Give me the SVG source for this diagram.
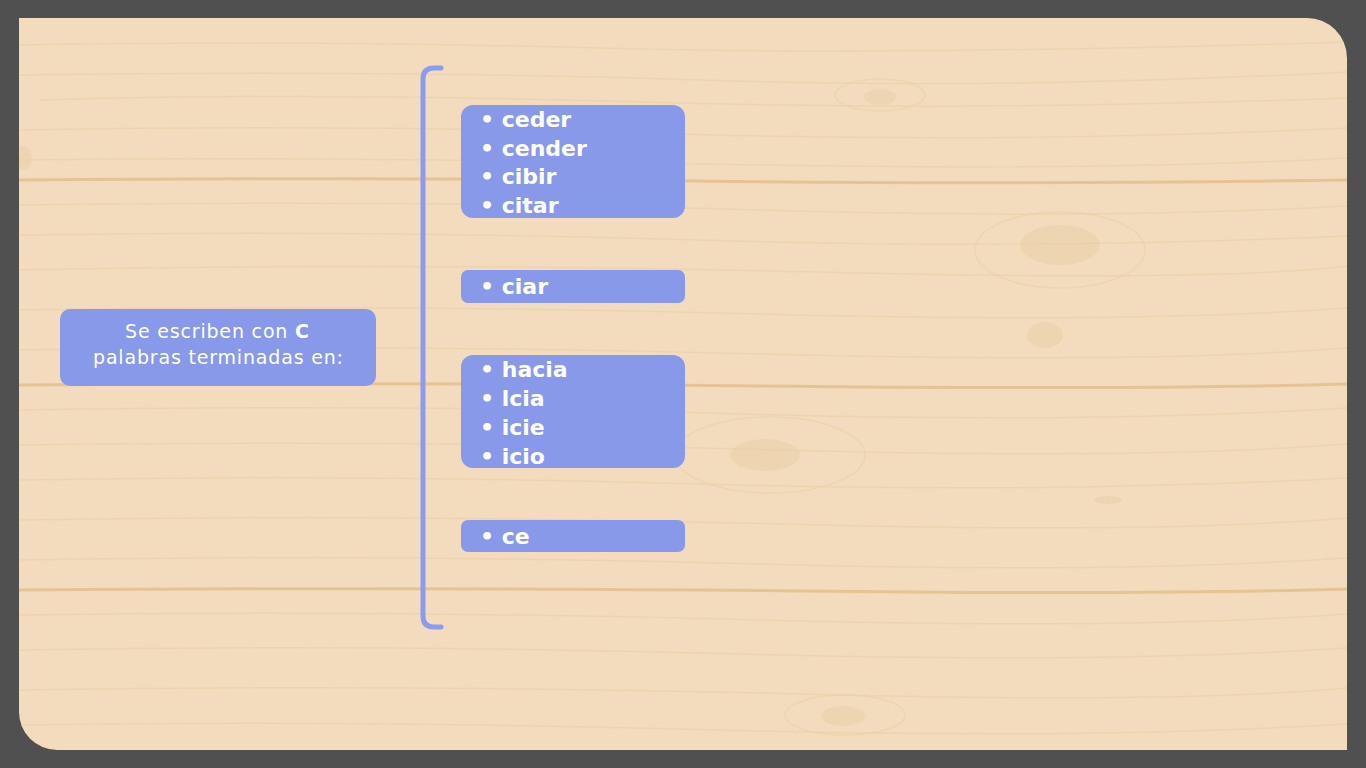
<svg xmlns="http://www.w3.org/2000/svg" width="1366" height="768" viewBox="0 0 1366 768">
  <defs>
    <style>
      .box { fill: #8899e9; }
      .item { font-family: "DejaVu Sans", "Liberation Sans", sans-serif; font-weight: bold; font-size: 22px; fill: #ffffff; }
      .lead { font-family: "DejaVu Sans", "Liberation Sans", sans-serif; font-size: 19px; fill: #ffffff; }
      .seam { stroke: #e6c393; stroke-width: 3; fill: none; }
      .grain { stroke: #ebd0a8; stroke-width: 1.5; fill: none; opacity: 0.7; }
      .knot { fill: #e9c99b; opacity: 0.35; }
      .ring { fill: none; stroke: #ebcfa6; stroke-width: 1.5; opacity: 0.6; }
    </style>
    <clipPath id="panelClip">
      <path d="M19 18 H1307 A40 40 0 0 1 1347 58 V750 H57 A38 38 0 0 1 19 712 Z"/>
    </clipPath>
  </defs>

  <!-- frame -->
  <rect x="0" y="0" width="1366" height="768" fill="#505050"/>

  <!-- wooden panel -->
  <g id="panel" clip-path="url(#panelClip)">
    <rect x="19" y="18" width="1328" height="732" fill="#f2dcbd"/>
    <!-- plank seams -->
    <path class="seam" d="M19 180 Q400 177 700 181 T1347 180"/>
    <path class="seam" d="M19 385 Q400 382 760 386 T1347 384"/>
    <path class="seam" d="M19 590 Q450 587 800 591 T1347 589"/>
    <!-- grain -->
    <path class="grain" d="M19 45 Q300 40 600 48 T1347 42"/>
    <path class="grain" d="M19 75 Q400 70 700 80 T1347 72"/>
    <path class="grain" d="M40 100 Q300 92 640 102 T1347 98"/>
    <path class="grain" d="M19 130 Q350 124 680 134 T1347 128"/>
    <path class="grain" d="M19 160 Q300 156 700 164 T1347 158"/>
    <path class="grain" d="M19 205 Q420 200 760 210 T1347 206"/>
    <path class="grain" d="M19 235 Q360 230 700 240 T1347 236"/>
    <path class="grain" d="M19 270 Q420 262 820 272 T1347 266"/>
    <path class="grain" d="M19 310 Q400 304 760 314 T1347 308"/>
    <path class="grain" d="M19 350 Q380 344 760 354 T1347 348"/>
    <path class="grain" d="M19 410 Q400 404 740 414 T1347 408"/>
    <path class="grain" d="M19 445 Q420 440 780 450 T1347 444"/>
    <path class="grain" d="M19 480 Q360 474 700 484 T1347 478"/>
    <path class="grain" d="M19 520 Q400 514 780 524 T1347 518"/>
    <path class="grain" d="M19 560 Q420 554 760 564 T1347 558"/>
    <path class="grain" d="M19 615 Q400 610 760 620 T1347 614"/>
    <path class="grain" d="M19 650 Q380 644 740 654 T1347 648"/>
    <path class="grain" d="M19 690 Q420 684 800 694 T1347 688"/>
    <path class="grain" d="M19 725 Q360 720 720 730 T1347 724"/>
    <!-- knots -->
    <ellipse class="ring" cx="880" cy="95" rx="45" ry="16"/>
    <ellipse class="knot" cx="880" cy="97" rx="16" ry="8"/>
    <ellipse class="ring" cx="1060" cy="250" rx="85" ry="38"/>
    <ellipse class="knot" cx="1060" cy="245" rx="40" ry="20"/>
    <ellipse class="knot" cx="1045" cy="335" rx="18" ry="13"/>
    <ellipse class="ring" cx="770" cy="455" rx="95" ry="38"/>
    <ellipse class="knot" cx="765" cy="455" rx="35" ry="16"/>
    <ellipse class="ring" cx="845" cy="715" rx="60" ry="20"/>
    <ellipse class="knot" cx="843" cy="716" rx="22" ry="10"/>
    <ellipse class="knot" cx="22" cy="158" rx="10" ry="12"/>
    <ellipse class="knot" cx="1108" cy="500" rx="14" ry="4"/>
  </g>

  <!-- bracket joining the lead box to the lists -->
  <g id="connectors">
    <path d="M441 68 H434 Q423 68 423 79 V616 Q423 627 434 627 H441" fill="none" stroke="#8b9cf0" stroke-width="5" stroke-linecap="round"/>
  </g>

  <!-- lead box -->
  <g id="lead">
    <rect class="box" x="60" y="309" width="316" height="77" rx="10"/>
    <text class="lead" x="125" y="338" textLength="184" lengthAdjust="spacing">Se escriben con <tspan font-weight="bold">C</tspan></text>
    <text class="lead" x="93" y="364" textLength="250" lengthAdjust="spacing">palabras terminadas en:</text>
  </g>

  <!-- list 1 -->
  <g id="list-cer">
    <rect class="box" x="461" y="105" width="224" height="113" rx="12"/>
    <text class="item" x="480" y="127">• ceder</text>
    <text class="item" x="480" y="155.5">• cender</text>
    <text class="item" x="480" y="184">• cibir</text>
    <text class="item" x="480" y="212.5">• citar</text>
  </g>

  <!-- list 2 -->
  <g id="list-ciar">
    <rect class="box" x="461" y="270" width="224" height="33" rx="7"/>
    <text class="item" x="480" y="294">• ciar</text>
  </g>

  <!-- list 3 -->
  <g id="list-cia">
    <rect class="box" x="461" y="355" width="224" height="113" rx="12"/>
    <text class="item" x="480" y="377">• hacia</text>
    <text class="item" x="480" y="406">• lcia</text>
    <text class="item" x="480" y="435">• icie</text>
    <text class="item" x="480" y="464">• icio</text>
  </g>

  <!-- list 4 -->
  <g id="list-ce">
    <rect class="box" x="461" y="520" width="224" height="32" rx="7"/>
    <text class="item" x="480" y="544">• ce</text>
  </g>
</svg>
